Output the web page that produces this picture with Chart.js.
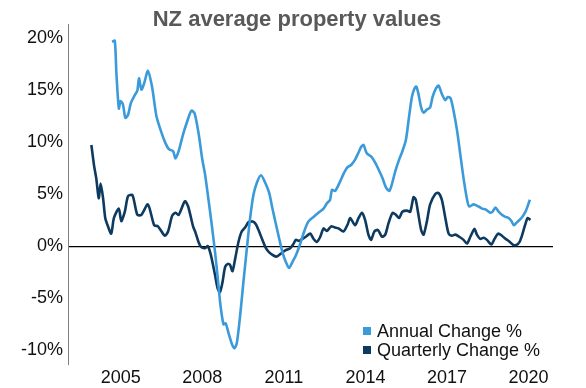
<!DOCTYPE html>
<html>
<head>
<meta charset="utf-8">
<script src="https://cdn.jsdelivr.net/npm/chart.js@4.4.1/dist/chart.umd.min.js"></script>
<style>
html,body{margin:0;padding:0;background:#fff;}
#wrap{width:586px;height:388px;position:relative;}
</style>
</head>
<body>
<div id="wrap"><canvas id="c" width="586" height="388"></canvas></div>
<script>
const titleText = "NZ average property values";
const seriesLabels = ["Annual Change %", "Quarterly Change %"];
const yTicks = [-10, -5, 0, 5, 10, 15, 20];
const xTicks = [2005, 2008, 2011, 2014, 2017, 2020];

const annualX = [2004.68,2004.78,2004.84,2004.93,2004.99,2005.08,2005.17,2005.27,2005.37,2005.52,2005.61,2005.67,2005.76,2005.86,2006.00,2006.15,2006.31,2006.47,2006.64,2006.77,2006.93,2007.01,2007.13,2007.29,2007.45,2007.60,2007.72,2007.87,2008.00,2008.10,2008.22,2008.35,2008.47,2008.57,2008.67,2008.78,2008.86,2008.96,2009.09,2009.18,2009.27,2009.39,2009.51,2009.64,2009.76,2009.88,2010.01,2010.16,2010.31,2010.46,2010.58,2010.70,2010.83,2010.95,2011.07,2011.19,2011.32,2011.44,2011.60,2011.76,2011.90,2012.09,2012.27,2012.46,2012.58,2012.70,2012.77,2012.89,2013.07,2013.19,2013.32,2013.48,2013.62,2013.75,2013.84,2013.93,2014.05,2014.21,2014.36,2014.51,2014.63,2014.76,2014.88,2014.97,2015.10,2015.24,2015.36,2015.49,2015.61,2015.71,2015.80,2015.87,2015.95,2016.05,2016.14,2016.26,2016.38,2016.47,2016.59,2016.69,2016.81,2016.94,2017.03,2017.13,2017.24,2017.37,2017.49,2017.61,2017.74,2017.82,2017.98,2018.16,2018.29,2018.43,2018.59,2018.68,2018.78,2018.90,2019.02,2019.15,2019.27,2019.37,2019.46,2019.58,2019.74,2019.89,2019.99,2020.05];
const annualY = [19.6,19.7,16.6,13.2,13.9,13.6,12.3,12.6,13.7,14.5,14.9,16.1,15.0,15.6,16.8,15.3,12.5,11.1,9.9,9.3,9.1,8.4,9.1,10.7,12.0,13.0,12.7,10.7,8.3,6.9,4.6,2.0,-0.6,-3.1,-5.7,-7.5,-7.4,-8.3,-9.4,-9.8,-9.3,-6.7,-3.5,-0.2,2.7,4.9,6.1,6.8,6.1,5.1,3.6,2.2,0.7,-0.6,-1.5,-2.1,-1.5,-0.9,0.2,1.5,2.35,2.8,3.2,3.6,4.1,4.45,5.4,5.3,6.2,6.9,7.5,7.8,8.3,9.0,9.5,9.7,8.9,8.6,8.0,7.2,6.5,5.6,5.3,5.9,7.2,8.3,9.1,10.2,12.5,14.3,15.1,15.3,14.6,13.3,12.8,13.1,13.3,14.3,15.1,15.4,14.6,14.0,14.3,14.2,13.0,11.1,8.8,6.5,4.45,3.8,4.0,3.8,3.6,3.5,3.2,3.3,3.7,3.3,3.0,2.8,2.7,2.4,2.0,2.3,2.7,3.3,4.0,4.45];

const quarterlyX = [2003.92,2004.02,2004.10,2004.19,2004.26,2004.35,2004.43,2004.53,2004.65,2004.75,2004.93,2005.02,2005.15,2005.27,2005.43,2005.61,2005.76,2006.00,2006.23,2006.37,2006.62,2006.74,2006.89,2007.01,2007.13,2007.36,2007.48,2007.66,2007.75,2007.86,2007.96,2008.10,2008.20,2008.29,2008.37,2008.47,2008.57,2008.65,2008.74,2008.84,2008.94,2009.02,2009.11,2009.21,2009.33,2009.45,2009.58,2009.70,2009.85,2009.97,2010.09,2010.21,2010.34,2010.46,2010.62,2010.74,2010.90,2011.05,2011.23,2011.35,2011.44,2011.56,2011.68,2011.81,2011.97,2012.09,2012.21,2012.34,2012.46,2012.58,2012.74,2012.86,2013.01,2013.19,2013.35,2013.44,2013.62,2013.75,2013.87,2013.99,2014.11,2014.21,2014.33,2014.46,2014.61,2014.73,2014.85,2015.00,2015.12,2015.24,2015.36,2015.53,2015.65,2015.77,2015.85,2015.95,2016.05,2016.14,2016.26,2016.38,2016.57,2016.69,2016.81,2016.94,2017.06,2017.18,2017.31,2017.45,2017.61,2017.74,2017.86,2018.01,2018.10,2018.22,2018.35,2018.47,2018.63,2018.75,2018.88,2019.02,2019.15,2019.27,2019.42,2019.55,2019.67,2019.77,2019.87,2019.97,2020.07];
const quarterlyY = [9.7,7.7,6.5,4.6,6.0,4.6,2.7,1.9,1.2,2.7,3.6,2.4,3.3,4.8,4.9,3.0,3.0,4.0,2.0,1.9,1.0,1.4,2.9,3.2,3.0,4.3,3.8,1.9,1.3,0.4,-0.1,-0.2,0.0,-0.6,-1.5,-2.8,-4.1,-4.4,-3.5,-2.0,-1.7,-1.8,-2.4,-1.2,0.4,1.4,1.8,2.3,2.35,2.1,1.4,0.6,-0.2,-0.6,-0.9,-1.0,-0.7,-0.4,-0.2,0.2,0.6,0.5,0.7,0.9,1.2,0.7,0.4,0.9,1.7,1.45,1.9,1.8,1.7,1.4,2.1,2.7,2.0,2.7,3.2,2.5,1.1,0.6,1.4,1.55,0.9,1.1,2.2,3.2,3.0,2.7,3.3,3.4,3.3,4.7,4.45,3.0,1.55,1.1,2.35,4.0,5.0,5.1,4.45,2.7,1.2,1.0,1.1,0.9,0.6,0.25,0.9,1.65,1.1,0.7,0.8,0.6,0.15,0.7,1.2,1.0,0.7,0.5,0.15,0.1,0.4,1.1,2.0,2.7,2.5];

const colors = ["#3b9ad9", "#0d3a5e"];
const FONT = "'Liberation Sans', Arial, sans-serif";

const toPts = (xs, ys) => xs.map((x, i) => ({x: x, y: ys[i]}));

const titlePlugin = {
  id: 'customTitle',
  afterDraw(chart) {
    const ctx = chart.ctx;
    ctx.save();
    ctx.font = "bold 22px " + FONT;
    ctx.fillStyle = "#595959";
    ctx.textAlign = "center";
    ctx.textBaseline = "alphabetic";
    ctx.fillText(titleText, 297, 26);
    ctx.restore();
  }
};

const legendPlugin = {
  id: 'customLegend',
  afterDraw(chart) {
    const ctx = chart.ctx;
    ctx.save();
    ctx.font = "18px " + FONT;
    ctx.textAlign = "left";
    ctx.textBaseline = "alphabetic";
    chart.data.datasets.forEach((ds, i) => {
      const base = 337 + i * 19;
      ctx.fillStyle = ds.borderColor;
      ctx.fillRect(363, base - 10, 8, 8);
      ctx.fillStyle = "#111";
      ctx.fillText(ds.label, 377, base);
    });
    ctx.restore();
  }
};

new Chart(document.getElementById('c'), {
  type: 'line',
  data: {
    datasets: [
      {label: seriesLabels[0], data: toPts(annualX, annualY), borderColor: colors[0], backgroundColor: colors[0], borderWidth: 2.6, pointRadius: 0, tension: 0.25, fill: false},
      {label: seriesLabels[1], data: toPts(quarterlyX, quarterlyY), borderColor: colors[1], backgroundColor: colors[1], borderWidth: 2.6, pointRadius: 0, tension: 0.25, fill: false}
    ]
  },
  options: {
    responsive: false,
    animation: false,
    devicePixelRatio: 1,
    layout: {padding: {top: 24, right: 33, left: 0, bottom: 0}},
    plugins: {legend: {display: false}, title: {display: false}, tooltip: {enabled: false}},
    scales: {
      x: {
        type: 'linear',
        min: 2003.06,
        max: 2020.9,
        afterBuildTicks: (s) => { s.ticks = xTicks.map(v => ({value: v})); },
        afterFit: (s) => { s.height = 23; },
        grid: {display: false, drawTicks: false},
        border: {display: false},
        ticks: {color: "#111", font: {family: FONT, size: 18}, padding: 2, maxRotation: 0, autoSkip: false, callback: (v) => String(v)}
      },
      y: {
        type: 'linear',
        min: -11.4,
        max: 21.3,
        afterBuildTicks: (s) => { s.ticks = yTicks.map(v => ({value: v})); },
        afterFit: (s) => { s.width = 68; },
        grid: {drawTicks: false, color: (c) => c.tick && c.tick.value === 0 ? "#000" : "rgba(0,0,0,0)", lineWidth: 1.2},
        border: {display: true, color: "#808080", width: 1},
        ticks: {color: "#111", font: {family: FONT, size: 18}, padding: 5, autoSkip: false, callback: (v) => v + "%"}
      }
    }
  },
  plugins: [titlePlugin, legendPlugin]
});
</script>
</body>
</html>
